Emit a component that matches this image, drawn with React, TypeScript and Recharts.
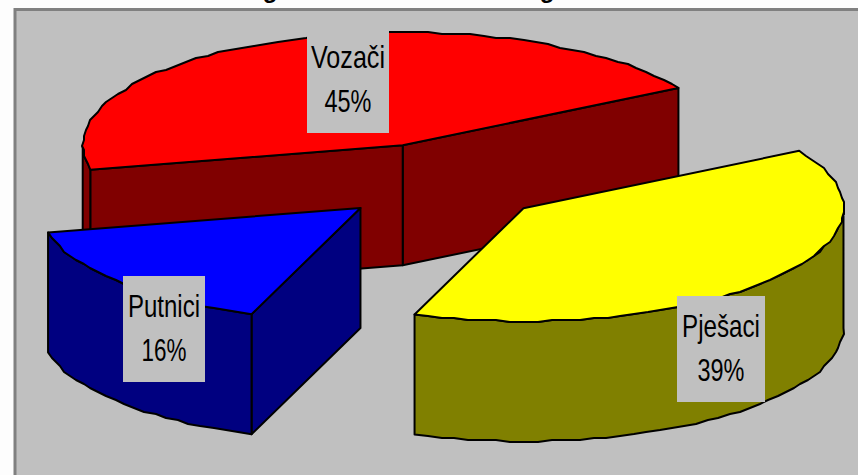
import { Pie, PieChart } from "recharts";

const categories = ["Vozači", "Putnici", "Pješaci"];
const shares = [45, 16, 39];
const data = categories.map((name, i) => ({ name, value: shares[i] }));

// top face / wall colours, same order as categories
const topColors = ["#ff0000", "#0000ff", "#ffff00"];
const wallColors = ["#800000", "#000080", "#808000"];
// small per-slice correction on top of the explode offset
const nudges = [
  [1, -2.5],
  [0, 0],
  [0, 1],
];

// label boxes: x, y, w, width of each text line
const labelBoxes = [
  { x: 307, y: 27, w: 82, line1: 74, line2: 47 },
  { x: 123, y: 276, w: 82, line1: 72, line2: 45 },
  { x: 677, y: 296, w: 88, line1: 78, line2: 47 },
];

const W = 858;
const H = 475;
const RY_RATIO = 113 / 320;
const DEPTH = 120;
const EXPLODE = 0.335;
const GRID = 2; // the original arcs are a coarse polyline

const rad = (d: number) => (d * Math.PI) / 180;
const snap = (n: number) => Math.round(n / GRID) * GRID;

function Slice3D(props: any) {
  const { cx, cy, outerRadius: rx, startAngle, endAngle, index } = props;
  const i = index ?? categories.indexOf(props.name ?? props.payload?.name);
  const ry = rx * RY_RATIO;
  const mid = (startAngle + endAngle) / 2;
  const ox = cx + EXPLODE * rx * Math.cos(rad(mid)) + nudges[i][0];
  const oy = cy - EXPLODE * ry * Math.sin(rad(mid)) + nudges[i][1];
  const at = (a: number): [number, number] => [
    ox + rx * Math.cos(rad(a)),
    oy - ry * Math.sin(rad(a)),
  ];
  const arc = (a0: number, a1: number) => {
    const pts: [number, number][] = [];
    const n = Math.max(1, Math.round((a1 - a0) / 2.5));
    for (let k = 0; k <= n; k++) {
      const p = at(a0 + ((a1 - a0) * k) / n);
      pts.push(k === 0 || k === n ? p : [snap(p[0]), snap(p[1])]);
    }
    return pts;
  };
  const path = (pts: [number, number][]) =>
    "M" + pts.map((p) => p.join(",")).join("L") + "Z";
  const down = (p: [number, number]): [number, number] => [p[0], p[1] + DEPTH];

  const apex: [number, number] = [ox, oy];
  const walls: string[] = [];
  // radial walls, only where they face the viewer
  if (Math.cos(rad(startAngle)) > 0) {
    const p = at(startAngle);
    walls.push(path([apex, p, down(p), down(apex)]));
  }
  if (Math.cos(rad(endAngle)) < 0) {
    const p = at(endAngle);
    walls.push(path([apex, p, down(p), down(apex)]));
  }
  // outer rim, front half only
  const a0 = Math.max(startAngle, 180);
  const a1 = Math.min(endAngle, 360);
  if (a1 > a0) {
    const rim = arc(a0, a1);
    walls.push(path([...rim, ...rim.map(down).reverse()]));
  }
  const top = path([apex, ...arc(startAngle, endAngle)]);

  return (
    <g stroke="#000" strokeWidth={2} strokeLinejoin="round">
      {walls.map((d, k) => (
        <path key={k} d={d} fill={wallColors[i]} />
      ))}
      <path d={top} fill={topColors[i]} />
    </g>
  );
}

function SliceLabel(props: any) {
  const i = props.index ?? categories.indexOf(props.name);
  const b = labelBoxes[i];
  const cx = b.x + b.w / 2;
  const font = {
    fontFamily: "'Liberation Sans', Arial, sans-serif",
    fontSize: 32,
    fill: "#000",
    stroke: "none",
    textAnchor: "middle" as const,
    lengthAdjust: "spacingAndGlyphs" as const,
  };
  return (
    <g>
      <rect x={b.x} y={b.y} width={b.w} height={106} fill="#c0c0c0" stroke="none" />
      <text x={cx} y={b.y + 41} textLength={b.line1} {...font}>
        {categories[i]}
      </text>
      <text x={cx} y={b.y + 85} textLength={b.line2} {...font}>
        {shares[i]}%
      </text>
    </g>
  );
}

export default function App() {
  return (
    <div
      style={{
        position: "absolute",
        left: 0,
        top: 0,
        width: W,
        height: H,
        overflow: "hidden",
        background: "#fdfdfd",
      }}
    >
      <svg width={W} height={H} style={{ position: "absolute", left: 0, top: 0 }}>
        <rect x={15} y={9.5} width={W} height={H} fill="#c0c0c0" stroke="#808080" strokeWidth={3} />
        {/* title is cut off by the image edge, only the descenders remain */}
        <g fontFamily="'Liberation Sans', Arial, sans-serif" fontWeight="bold" fontSize={24} textAnchor="middle">
          <text x={270} y={-2}>g</text>
          <text x={547} y={-2}>g</text>
        </g>
      </svg>
      <div style={{ position: "absolute", left: 0, top: 0 }}>
        <PieChart width={W} height={H} margin={{ top: 0, right: 0, bottom: 0, left: 0 }}>
          <Pie
            data={data}
            dataKey="value"
            nameKey="name"
            cx={441}
            cy={183}
            outerRadius={320}
            startAngle={30.5}
            endAngle={390.5}
            isAnimationActive={false}
            shape={Slice3D}
            label={SliceLabel}
            labelLine={false}
          />
        </PieChart>
      </div>
    </div>
  );
}
